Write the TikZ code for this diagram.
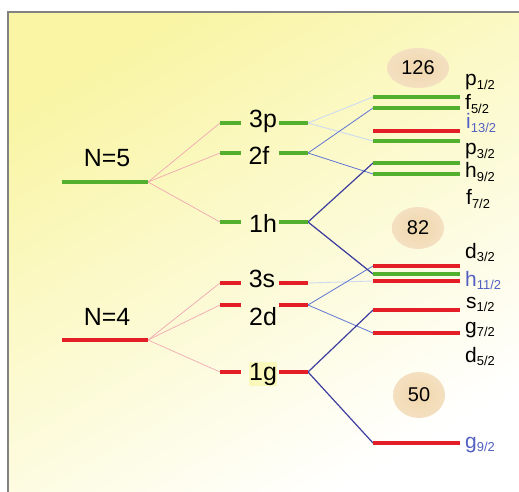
\documentclass[tikz,border=0pt]{standalone}
\usepackage{fontspec}
\setmainfont{Liberation Sans}
\usetikzlibrary{positioning,calc,shapes.geometric}

\definecolor{lvgreen}{RGB}{82,176,46}
\definecolor{lvred}{RGB}{228,30,38}
\definecolor{bgyellow}{RGB}{249,245,165}
\definecolor{bgpale}{RGB}{252,251,222}
\definecolor{oval}{RGB}{240,214,172}
\definecolor{linkpink}{RGB}{240,168,178}
\definecolor{linkpale}{RGB}{205,218,240}
\definecolor{linkmid}{RGB}{96,118,212}
\definecolor{linkdark}{RGB}{62,62,160}
\definecolor{jblue}{RGB}{82,96,196}
\definecolor{framegray}{RGB}{130,130,130}

\newcommand{\orb}[2]{#1\raisebox{-0.3ex}{\fontsize{13}{13}\selectfont #2}}

\begin{document}
\begin{tikzpicture}[x=1bp, y=-1bp,
    grn/.style={line width=4bp, lvgreen},
    rd/.style={line width=4bp, lvred},
    split/.style={linkpink, line width=0.7bp},
    pale/.style={linkpale, line width=0.9bp},
    mid/.style={linkmid, line width=0.8bp},
    dark/.style={linkdark, line width=1.2bp},
    shell/.style={font=\fontsize{25}{27}\selectfont, inner sep=1pt, anchor=base},
    jlab/.style={font=\fontsize{21}{23}\selectfont, inner sep=0pt, anchor=base west},
    magic/.style={ellipse, shading=radial, inner color=oval, outer color=oval!75!white,
        font=\fontsize{20}{22}\selectfont, inner sep=0pt}
]
\useasboundingbox (0,0) rectangle (519,492);
% background and frame
\shade[top color=bgyellow, bottom color=white, shading angle=30]
    (8,12) rectangle (519,492);
\draw[framegray, line width=1.2bp] (8,492) -- (8,12) -- (519,12);

% oscillator shells
\node[shell] (lN5) at (107,167) {N=5};
\node[shell] (lN4) at (107,325) {N=4};
\coordinate (n5L) at (62,182);  \coordinate (n5R) at (148,182);
\coordinate (n4L) at (62,340);  \coordinate (n4R) at (148,340);

% l-levels
\node[shell] (l3p) at (263,128) {3p};
\node[shell] (l2f) at (259,165) {2f};
\node[shell] (l1h) at (263,232) {1h};
\node[shell] (l3s) at (262,287) {3s};
\node[shell, fill=bgyellow!40!white] (l2d) at (263,325) {2d};
\node[shell, fill=bgyellow!75!white, inner sep=0.5pt] (l1g) at (263,380) {1g};
\foreach \n/\y in {3p/123, 2f/153, 1h/222, 3s/283, 2d/305, 1g/372} {
  \coordinate (s\n L) at (220,\y);
  \coordinate (s\n R) at (308,\y);
}

% j-levels
\foreach \n/\y in {p12/97, f52/108, i132/131, p32/141, h92/163, f72/174,
                   d32/266, h112/274, s12/281, g72/310, d52/333, g92/443}
  \coordinate (\n) at (373,\y);

% magic numbers
\node[magic, minimum width=62bp, minimum height=40bp] (m126) at (418,68) {126};
\node[magic, minimum width=52bp, minimum height=42bp] (m82) at (418,228) {82};
\node[magic, minimum width=52bp, minimum height=46bp] (m50) at (419,395) {50};

% splitting lines
\foreach \s in {3p, 2f, 1h} \draw[split] (n5R) -- (s\s L);
\foreach \s in {3s, 2d, 1g} \draw[split] (n4R) -- (s\s L);
\draw[pale] (s3pR) -- (p12);
\draw[pale] (s3pR) -- (p32);
\draw[pale] (s3sR) -- (s12);
\draw[mid] (s2fR) -- (f52);
\draw[mid] (s2fR) -- (f72);
\draw[mid] (s2dR) -- (d32);
\draw[mid] (s2dR) -- (d52);
\draw[dark] (s1hR) -- (h92);
\draw[dark] (s1hR) -- (h112);
\draw[dark] (s1gR) -- (g72);
\draw[dark] (s1gR) -- (g92);

% level bars
\draw[grn] (n5L) -- (n5R);
\draw[rd] (n4L) -- (n4R);
\foreach \n/\c in {3p/grn, 2f/grn, 1h/grn, 3s/rd, 2d/rd, 1g/rd} {
  \draw[\c] (s\n L) -- ++(21,0);
  \draw[\c] (s\n R) -- ++(-29,0);
}
\foreach \n/\c in {p12/grn, f52/grn, i132/rd, p32/grn, h92/grn, f72/grn,
                   d32/rd, h112/grn, s12/rd, g72/rd, d52/rd, g92/rd}
  \draw[\c] (\n) -- ++(87,0);

% j labels
\node[jlab] (tp12) at (465,86) {\orb{p}{1/2}};
\node[jlab] (tf52) at (465,110) {\orb{f}{5/2}};
\node[jlab, text=jblue] (ti132) at (466,129) {\orb{i}{13/2}};
\node[jlab] (tp32) at (465,155) {\orb{p}{3/2}};
\node[jlab] (th92) at (465,178) {\orb{h}{9/2}};
\node[jlab] (tf72) at (466,205) {\orb{f}{7/2}};
\node[jlab] (td32) at (465,258) {\orb{d}{3/2}};
\node[jlab, text=jblue] (th112) at (465,286) {\orb{h}{11/2}};
\node[jlab] (ts12) at (466,308) {\orb{s}{1/2}};
\node[jlab] (tg72) at (465,333) {\orb{g}{7/2}};
\node[jlab] (td52) at (465,362) {\orb{d}{5/2}};
\node[jlab, text=jblue] (tg92) at (465,448) {\orb{g}{9/2}};
\end{tikzpicture}
\end{document}
